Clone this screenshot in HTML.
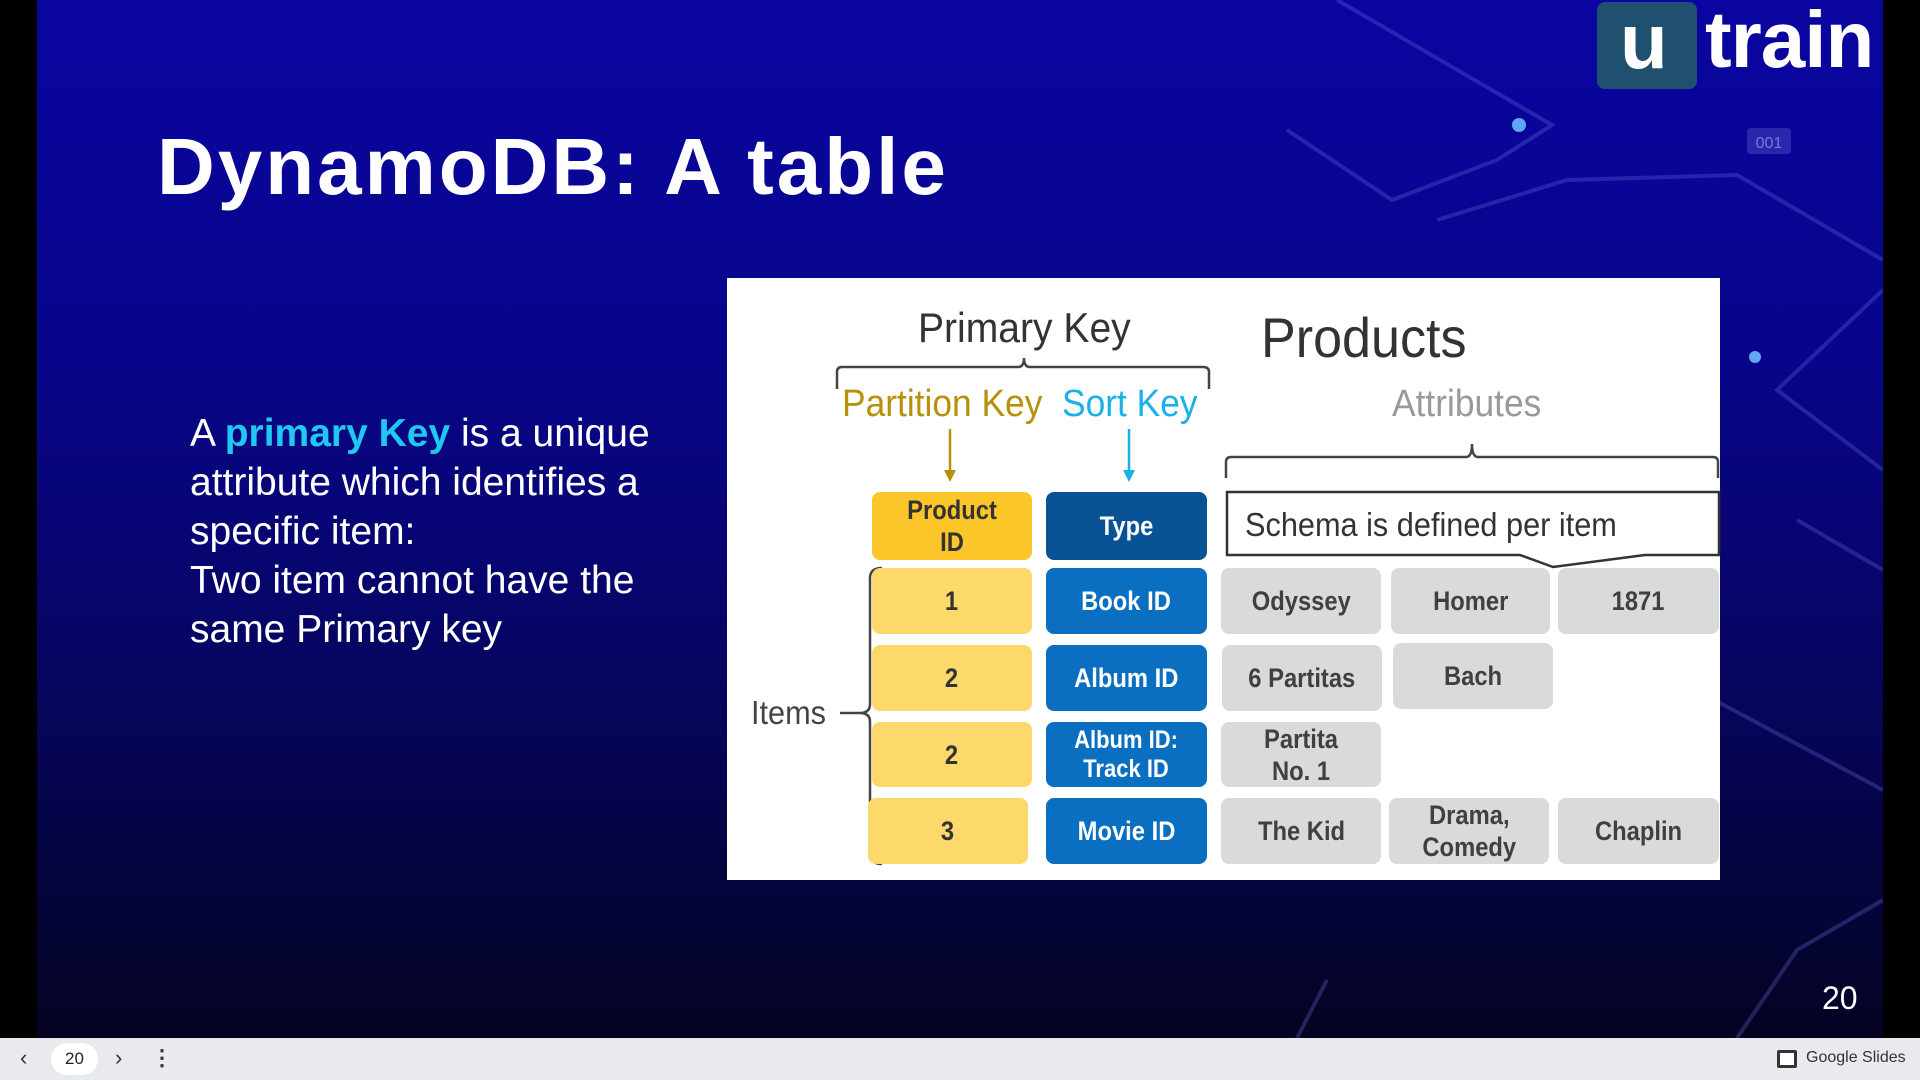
<!DOCTYPE html>
<html><head><meta charset="utf-8"><style>
*{margin:0;padding:0;box-sizing:border-box}
body{width:1920px;height:1080px;overflow:hidden;background:#000;font-family:"Liberation Sans",sans-serif;position:relative}
#slide{position:absolute;left:37px;top:0;width:1846px;height:1038px;background:linear-gradient(180deg,#0a05a0 0%,#08058a 35%,#060560 65%,#040322 100%);overflow:hidden}
.a{position:absolute}
#bar{position:absolute;left:0;top:1038px;width:1920px;height:42px;background:#e8eaed}
.cell{position:absolute;border-radius:8px;display:flex;align-items:center;justify-content:center;text-align:center;font-weight:bold;font-size:27px;line-height:32px}
.cell span{display:inline-block;transform:scaleX(0.88)}
.y{background:#fdd86a;color:#333}
.b{background:#0a6fc0;color:#fff}
.g{background:#dadada;color:#404040}
.n{transform:scaleX(0.93);transform-origin:left center;white-space:nowrap}
</style></head><body>
<div id="slide">
<svg class="a" style="left:0;top:0" width="1846" height="1038">
<g fill="none" stroke="rgba(120,120,230,0.28)" stroke-width="4">
<polyline points="1300,0 1515,125 1460,160 1355,200 1250,130"/>
<polyline points="1400,220 1530,180 1700,175 1846,260"/>
<polyline points="1846,290 1740,390 1846,470"/>
<polyline points="1760,520 1846,570"/>
<polyline points="1640,680 1846,790"/>
<polyline points="1700,1038 1760,950 1846,900"/>
<polyline points="1260,1038 1290,980"/>
</g>
<circle cx="1482" cy="125" r="7" fill="#6ab8ff" opacity="0.9"/>
<circle cx="1718" cy="357" r="6" fill="#6ab8ff" opacity="0.9"/>
<rect x="1710" y="128" width="44" height="26" rx="4" fill="rgba(120,120,230,0.3)"/>
<text x="1732" y="148" font-size="16" fill="rgba(200,200,255,0.5)" text-anchor="middle" font-family="Liberation Sans">001</text>
</svg>
<div class="a" style="left:1560px;top:2px;width:100px;height:87px;background:#1f5070;border-radius:8px"></div>
<div class="a" style="left:1583px;top:-4px;font-size:78px;font-weight:bold;color:#fff">u</div>
<div class="a" style="left:1668px;top:-6px;font-size:80px;font-weight:bold;color:#fff;letter-spacing:-1px">train</div>
<div class="a" style="left:120px;top:121px;font-size:80px;font-weight:bold;color:#fff;letter-spacing:3px">DynamoDB: A table</div>
<div class="a" style="left:153px;top:409px;font-size:39px;line-height:49px;color:#fff;white-space:nowrap">A <span style="color:#20c8f0;font-weight:bold">primary Key</span> is a unique<br>attribute which identifies a<br>specific item:<br>Two item cannot have the<br>same Primary key</div>
<div class="a" style="left:1785px;top:980px;font-size:32px;color:#fff">20</div>
</div>
<div class="a" style="left:727px;top:278px;width:993px;height:602px;background:#fff"></div>
<svg class="a" style="left:0;top:0" width="1920" height="1080">
<g fill="none" stroke="#444" stroke-width="2.5">
<path d="M837,389 V372 Q837,367 842,367 H1018 Q1024,367 1024,358 Q1024,367 1030,367 H1203 Q1209,367 1209,372 V389"/>
<path d="M1226,478 V462 Q1226,457 1231,457 H1466 Q1472,457 1472,444 Q1472,457 1478,457 H1713 Q1718,457 1718,462 V478"/>
<path d="M882,568 Q870,568 870,578 V704 Q870,713 860,713 Q870,713 870,722 V854 Q870,864 882,864"/>
<path d="M840,713 H860"/>
</g>
<line x1="950" y1="429" x2="950" y2="472" stroke="#b8900a" stroke-width="2.5"/>
<polygon points="944,470 956,470 950,482" fill="#b8900a"/>
<line x1="1129" y1="429" x2="1129" y2="472" stroke="#1ab0e8" stroke-width="2.5"/>
<polygon points="1123,470 1135,470 1129,482" fill="#1ab0e8"/>
<path d="M1227,492 H1719 V555 H1645 L1553,567 L1520,555 H1227 Z" fill="#fff" stroke="#333" stroke-width="2.5"/>
</svg>
<div class="a n" style="left:918px;top:304px;font-size:42px;color:#333">Primary Key</div>
<div class="a n" style="left:1261px;top:305px;font-size:56px;color:#333">Products</div>
<div class="a n" style="left:842px;top:383px;font-size:38px;color:#b8900a">Partition Key</div>
<div class="a n" style="left:1062px;top:383px;font-size:38px;color:#1ab0e8">Sort Key</div>
<div class="a n" style="left:1392px;top:383px;font-size:38px;color:#999">Attributes</div>
<div class="a n" style="left:1245px;top:506px;font-size:33px;color:#333">Schema is defined per item</div>
<div class="a n" style="left:751px;top:694px;font-size:33px;color:#444">Items</div>
<div class="cell" style="left:872px;top:492px;width:160px;height:68px;background:#fcc62a;color:#333"><span>Product<br>ID</span></div>
<div class="cell" style="left:1046px;top:492px;width:161px;height:68px;background:#0a5296;color:#fff"><span>Type</span></div>
<div class="cell y" style="left:872px;top:568px;width:160px;height:66px"><span>1</span></div>
<div class="cell b" style="left:1046px;top:568px;width:161px;height:66px"><span>Book ID</span></div>
<div class="cell g" style="left:1221px;top:568px;width:160px;height:66px"><span>Odyssey</span></div>
<div class="cell g" style="left:1391px;top:568px;width:159px;height:66px"><span>Homer</span></div>
<div class="cell g" style="left:1558px;top:568px;width:161px;height:66px"><span>1871</span></div>
<div class="cell y" style="left:872px;top:645px;width:160px;height:66px"><span>2</span></div>
<div class="cell b" style="left:1046px;top:645px;width:161px;height:66px"><span>Album ID</span></div>
<div class="cell g" style="left:1222px;top:645px;width:160px;height:66px"><span>6 Partitas</span></div>
<div class="cell g" style="left:1393px;top:643px;width:160px;height:66px"><span>Bach</span></div>
<div class="cell y" style="left:872px;top:722px;width:160px;height:65px"><span>2</span></div>
<div class="cell b" style="left:1046px;top:722px;width:161px;height:65px;font-size:25px;line-height:29px"><span>Album ID:<br>Track ID</span></div>
<div class="cell g" style="left:1221px;top:722px;width:160px;height:65px"><span>Partita<br>No. 1</span></div>
<div class="cell y" style="left:868px;top:798px;width:160px;height:66px"><span>3</span></div>
<div class="cell b" style="left:1046px;top:798px;width:161px;height:66px"><span>Movie ID</span></div>
<div class="cell g" style="left:1221px;top:798px;width:160px;height:66px"><span>The Kid</span></div>
<div class="cell g" style="left:1389px;top:798px;width:160px;height:66px"><span>Drama,<br>Comedy</span></div>
<div class="cell g" style="left:1558px;top:798px;width:161px;height:66px"><span>Chaplin</span></div>
<div id="bar">
<div class="a" style="left:20px;top:7px;font-size:22px;color:#333">‹</div>
<div class="a" style="left:51px;top:5px;width:47px;height:32px;border-radius:16px;background:#fff;font-size:17px;color:#222;text-align:center;line-height:32px">20</div>
<div class="a" style="left:115px;top:7px;font-size:22px;color:#333">›</div>
<div class="a" style="left:151px;top:7px;font-size:22px;color:#333;font-weight:bold">⋮</div>
<div class="a" style="left:1777px;top:12px;width:20px;height:18px;border:3px solid #333;border-radius:2px;background:#fff"></div>
<div class="a" style="left:1806px;top:11px;font-size:16px;color:#333">Google Slides</div>
</div>
</body></html>
